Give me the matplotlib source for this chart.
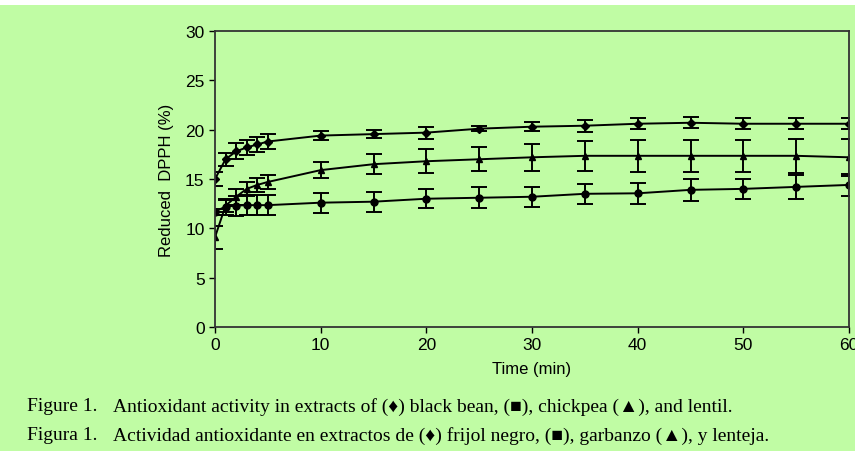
import numpy as np
import matplotlib.pyplot as plt
from matplotlib.patches import Rectangle

time = [0, 1, 2, 3, 4, 5, 10, 15, 20, 25, 30, 35, 40, 45, 50, 55, 60]

bean = [15.0, 17.0, 17.8, 18.2, 18.5, 18.8, 19.4, 19.55, 19.7, 20.1,
        20.3, 20.4, 20.6, 20.7, 20.6, 20.6, 20.6]
bean_err = [0.75, 0.67, 0.8, 0.8, 0.8, 0.75, 0.47, 0.42, 0.6, 0.25,
            0.45, 0.6, 0.55, 0.55, 0.55, 0.55, 0.55]

chickpea = [11.7, 12.2, 12.3, 12.35, 12.35, 12.35, 12.6, 12.7, 13.0, 13.1,
            13.2, 13.5, 13.55, 13.9, 14.0, 14.2, 14.4]
chickpea_err = [0.3, 0.8, 1.0, 1.0, 1.0, 1.0, 1.0, 1.0, 0.95, 1.05,
                1.0, 1.0, 1.05, 1.1, 1.0, 1.2, 1.1]

lentil = [9.1, 12.3, 13.2, 14.0, 14.4, 14.7, 15.9, 16.5, 16.8, 17.0,
          17.2, 17.35, 17.35, 17.35, 17.35, 17.35, 17.2]
lentil_err = [1.15, 0.6, 0.8, 0.7, 0.75, 0.75, 0.8, 1.0, 1.2, 1.2,
              1.35, 1.5, 1.6, 1.65, 1.65, 1.75, 1.85]

fig_labels = ["Figure 1.", "Figura 1."]
captions = ["Antioxidant activity in extracts of (\u2666) black bean, (\u25a0), chickpea (\u25b2), and lentil.",
            "Actividad antioxidante en extractos de (\u2666) frijol negro, (\u25a0), garbanzo (\u25b2), y lenteja."]

green = '#c0fca4'
W, H = 855, 452

plt.rcParams['font.family'] = ['Liberation Sans', 'DejaVu Sans']
fig = plt.figure(figsize=(W / 100, H / 100), dpi=100, facecolor='white')
fig.patches.append(Rectangle((0, 0), 1, 1 - 6 / H, transform=fig.transFigure,
                             facecolor=green, edgecolor='none', zorder=-10))

ax = fig.add_axes([215 / W, 1 - 328 / H, (849 - 215) / W, (328 - 32) / H])
ax.set_facecolor(green)

series = [(bean, bean_err, 'D', 4), (chickpea, chickpea_err, 'o', 5),
          (lentil, lentil_err, '^', 5)]
for vals, err, mk, ms in series:
    ax.errorbar(time, vals, yerr=err, color='black', lw=1.4, marker=mk,
                ms=ms, capsize=6, capthick=1.4, elinewidth=1.4)

ax.set_xlim(0, 60)
ax.set_ylim(0, 30)
ax.set_xticks(range(0, 61, 10))
ax.set_yticks(range(0, 31, 5))
for s in ax.spines.values():
    s.set_color('#333333')
    s.set_linewidth(1.3)
ax.tick_params(labelsize=12.5, length=4, width=1, colors='black')
ax.set_xlabel('Time (min)', fontsize=12, labelpad=6)
ax.set_ylabel('Reduced  DPPH (%)', fontsize=12, labelpad=8)

serif = ['Liberation Serif', 'DejaVu Serif']
for i, (lab, cap) in enumerate(zip(fig_labels, captions)):
    yy = 1 - (407 + 29 * i) / H
    fig.text(27 / W, yy, lab, fontsize=14, va='center', family=serif)
    fig.text(113 / W, yy, cap, fontsize=14, va='center', family=serif)

fig.savefig('out.png', dpi=100, facecolor='white')
